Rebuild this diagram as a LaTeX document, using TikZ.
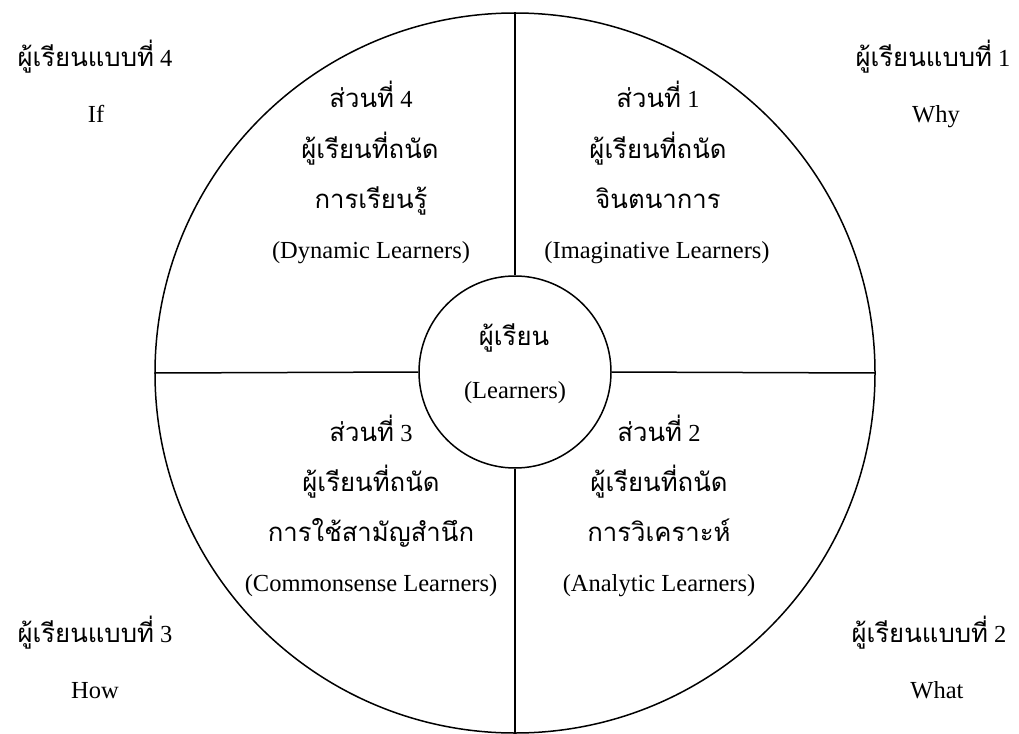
\documentclass[tikz,border=0pt]{standalone}
\usepackage{fontspec}
\setmainfont{Liberation Serif}
\newfontfamily\thaifont[Script=Thai,Scale=1.05]{Loma}
\newcommand\thx[1]{{\thaifont #1}}
\begin{document}
\begin{tikzpicture}[x=1pt,y=-1pt,
  ring/.style={draw,circle,line width=1.5pt,inner sep=0pt},
  seg/.style={line width=1.5pt},
  lbl/.style={anchor=base,inner sep=0pt,font=\fontsize{24.5}{28}\selectfont}]
\useasboundingbox (0,0) rectangle (1019,733);
\node[ring,minimum size=720pt] (big) at (515,373) {};
\node[ring,minimum size=192pt] (small) at (515,372) {};
\draw[seg] (big.north) -- (small.north);
\draw[seg] (small.south) -- (big.south);
\draw[seg] (big.west) -- (small.west);
\draw[seg] (small.east) -- (big.east);
% centre
\node[lbl] (c1) at (514,345) {\thx{ผู้เรียน}};
\node[lbl] (c2) at (515,398) {(Learners)};
% quadrant 4 (top left)
\node[lbl] (q4a) at (371,108) {\thx{ส่วนที่} 4};
\node[lbl] (q4b) at (370,158) {\thx{ผู้เรียนที่ถนัด}};
\node[lbl] (q4c) at (371,208) {\thx{การเรียนรู้}};
\node[lbl] (q4d) at (371,258) {(Dynamic Learners)};
% quadrant 1 (top right)
\node[lbl] (q1a) at (658,108) {\thx{ส่วนที่} 1};
\node[lbl] (q1b) at (658,158) {\thx{ผู้เรียนที่ถนัด}};
\node[lbl] (q1c) at (658,208) {\thx{จินตนาการ}};
\node[lbl] (q1d) at (657,258) {(Imaginative Learners)};
% quadrant 3 (bottom left)
\node[lbl] (q3a) at (371,441) {\thx{ส่วนที่} 3};
\node[lbl] (q3b) at (371,491) {\thx{ผู้เรียนที่ถนัด}};
\node[lbl] (q3c) at (371,541) {\thx{การใช้สามัญสำนึก}};
\node[lbl] (q3d) at (371,591) {(Commonsense Learners)};
% quadrant 2 (bottom right)
\node[lbl] (q2a) at (659,441) {\thx{ส่วนที่} 2};
\node[lbl] (q2b) at (659,491) {\thx{ผู้เรียนที่ถนัด}};
\node[lbl] (q2c) at (659,541) {\thx{การวิเคราะห์}};
\node[lbl] (q2d) at (659,591) {(Analytic Learners)};
% corner labels
\node[lbl] (t4) at (95,67) {\thx{ผู้เรียนแบบที่} 4};
\node[lbl] (w4) at (96,123) {If};
\node[lbl] (t1) at (933,67) {\thx{ผู้เรียนแบบที่} 1};
\node[lbl] (w1) at (936,122) {Why};
\node[lbl] (t3) at (95,642) {\thx{ผู้เรียนแบบที่} 3};
\node[lbl] (w3) at (95,698) {How};
\node[lbl] (t2) at (929,642) {\thx{ผู้เรียนแบบที่} 2};
\node[lbl] (w2) at (937,698) {What};
\end{tikzpicture}
\end{document}
